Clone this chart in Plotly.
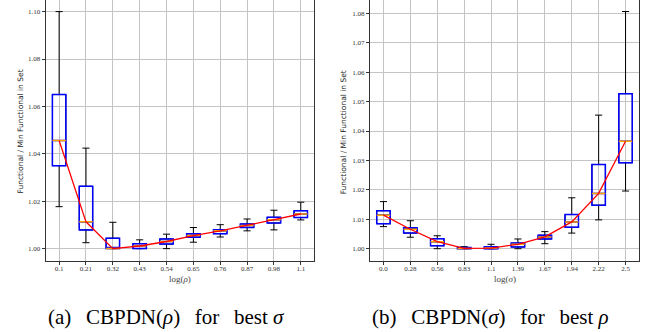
import plotly.graph_objects as go

W, H = 651, 332

# ---------------- data ----------------
rho_labels = ["0.1", "0.21", "0.32", "0.43", "0.54", "0.65", "0.76", "0.87", "0.98", "1.1"]
rho_upper = [1.1000, 1.0424, 1.0111, 1.0037, 1.0061, 1.0089, 1.0101, 1.0125, 1.0162, 1.0196]
rho_q3    = [1.0650, 1.0263, 1.0044, 1.0021, 1.0041, 1.0063, 1.0080, 1.0104, 1.0132, 1.0160]
rho_med   = [1.0456, 1.0113, 1.0000, 1.0011, 1.0030, 1.0055, 1.0075, 1.0097, 1.0122, 1.0146]
rho_q1    = [1.0350, 1.0079, 1.0000, 1.0000, 1.0019, 1.0048, 1.0063, 1.0089, 1.0108, 1.0131]
rho_lower = [1.0177, 1.0025, 1.0000, 1.0000, 1.0000, 1.0027, 1.0049, 1.0075, 1.0079, 1.0121]
rho_yticks = [1.00, 1.02, 1.04, 1.06, 1.08, 1.10]

sig_labels = ["0.0", "0.28", "0.56", "0.83", "1.1", "1.39", "1.67", "1.94", "2.22", "2.5"]
sig_upper = [1.0160, 1.0095, 1.0044, 1.0007, 1.0015, 1.0033, 1.0058, 1.0173, 1.0454, 1.0806]
sig_q3    = [1.0129, 1.0071, 1.0034, 1.0004, 1.0007, 1.0019, 1.0046, 1.0116, 1.0286, 1.0527]
sig_med   = [1.0114, 1.0066, 1.0024, 1.0001, 1.0002, 1.0015, 1.0040, 1.0091, 1.0188, 1.0365]
sig_q1    = [1.0085, 1.0053, 1.0010, 1.0000, 1.0000, 1.0006, 1.0033, 1.0073, 1.0148, 1.0292]
sig_lower = [1.0075, 1.0039, 1.0000, 1.0000, 1.0000, 1.0000, 1.0017, 1.0053, 1.0098, 1.0196]
sig_yticks = [1.00, 1.01, 1.02, 1.03, 1.04, 1.05, 1.06, 1.07, 1.08]

positions = list(range(1, 11))

fig = go.Figure()


def add_panel(xa, ya, upper, q3, med, q1, lower):
    common = dict(x=positions, xaxis=xa, yaxis=ya, width=0.5, boxpoints=False,
                  showlegend=False, hoverinfo="skip", fillcolor="rgba(0,0,0,0)")
    # whiskers + caps (black)
    fig.add_trace(go.Box(q1=q1, median=med, q3=q3, lowerfence=lower, upperfence=upper,
                         whiskerwidth=0.53, line=dict(color="black", width=1), **common))
    # box outline (blue)
    fig.add_trace(go.Box(q1=q1, median=med, q3=q3, lowerfence=q1, upperfence=q3,
                         whiskerwidth=0, line=dict(color="#0000ff", width=1.5), **common))
    # median (orange)
    fig.add_trace(go.Box(q1=med, median=med, q3=med, lowerfence=med, upperfence=med,
                         whiskerwidth=0, line=dict(color="#ffa500", width=1.5), **common))
    # trend line (red)
    fig.add_trace(go.Scatter(x=positions, y=med, mode="lines", xaxis=xa, yaxis=ya,
                             line=dict(color="#ff0000", width=1.3), showlegend=False,
                             hoverinfo="skip"))


add_panel("x", "y", rho_upper, rho_q3, rho_med, rho_q1, rho_lower)
add_panel("x2", "y2", sig_upper, sig_q3, sig_med, sig_q1, sig_lower)

tickfont = dict(family="Liberation Serif", size=7, color="#333333")
grid = "#c4c4c4"
axis_common = dict(showgrid=True, gridcolor=grid, gridwidth=1, zeroline=False,
                   showline=True, mirror=True, linecolor="#333333", linewidth=1.2,
                   ticks="outside", ticklen=3, tickwidth=1, tickcolor="#333333",
                   tickfont=tickfont)

ytop = 1.0
ybot = 1 - 260.7 / H

fig.update_layout(
    width=W, height=H, margin=dict(l=0, r=0, t=0, b=0),
    paper_bgcolor="white", plot_bgcolor="white", boxmode="overlay",
    xaxis=dict(domain=[45.7 / W, 314.2 / W], range=[0.5, 10.5], tickvals=positions,
               ticktext=rho_labels, anchor="y", ticklabelstandoff=-2, **axis_common),
    yaxis=dict(domain=[ybot, ytop], range=[0.9949, 1.1049], tickvals=rho_yticks,
               tickformat=".2f", anchor="x", **axis_common),
    xaxis2=dict(domain=[370 / W, 639 / W], range=[0.5, 10.5], tickvals=positions,
                ticktext=sig_labels, anchor="y2", ticklabelstandoff=-2, **axis_common),
    yaxis2=dict(domain=[ybot, ytop], range=[0.99592, 1.08452], tickvals=sig_yticks,
                tickformat=".2f", anchor="x2", **axis_common),
)


def ann(text, px, py, size, family, angle=0, color="#222222"):
    fig.add_annotation(text=text, x=px / W, y=1 - py / H, xref="paper", yref="paper",
                       showarrow=False, xanchor="center", yanchor="middle",
                       textangle=angle, font=dict(family=family, size=size, color=color))


ytitle = "Functional / Min Functional in Set"
ann(ytitle, 19.5, 132, 7.5, "DejaVu Sans", -90)
ann(ytitle, 343.3, 132, 7.5, "DejaVu Sans", -90)
ann("log(<i>ρ</i>)", 180, 279, 9, "Liberation Serif", color="#444444")
ann("log(<i>σ</i>)", 504.5, 279, 9, "Liberation Serif", color="#444444")
gap = "\u00a0\u00a0\u2009"
ann("(a)" + gap + "CBPDN(<i>ρ</i>)" + gap + "for" + gap + "best <i>σ</i>", 166, 316.5, 21,
    "Liberation Serif", color="black")
ann("(b)" + gap + "CBPDN(<i>σ</i>)" + gap + "for" + gap + "best <i>ρ</i>", 490, 316.5, 21,
    "Liberation Serif", color="black")

fig.write_html("out.html")
